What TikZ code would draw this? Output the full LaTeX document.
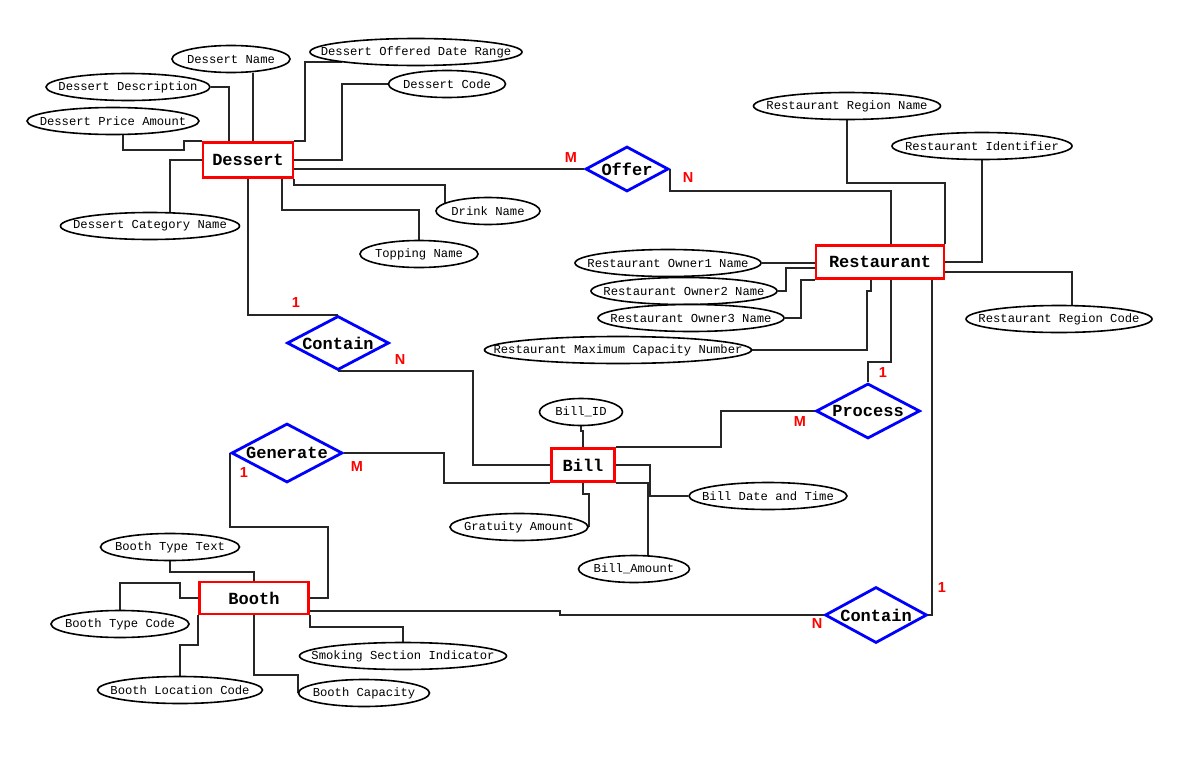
\documentclass[tikz,border=0pt]{standalone}
\usepackage{fontspec}
\setmainfont{Liberation Sans}
\newfontfamily\erfont{Liberation Mono}
\usetikzlibrary{shapes.geometric,backgrounds}
\newcommand\zt[1]{\makebox[0pt]{#1}}
\tikzset{
  attr/.style={ellipse, draw=black, line width=1.6pt, fill=white, inner sep=0pt,
    minimum height=27pt, font=\erfont\fontsize{12.2}{14}\selectfont},
  entity/.style={rectangle, draw=red, line width=2.8pt, fill=white, inner sep=0pt,
    font=\erfont\bfseries\fontsize{17}{20}\selectfont},
  rel/.style={diamond, aspect=1.8, draw=blue, line width=2.8pt, fill=white, inner sep=0pt,
    font=\erfont\bfseries\fontsize{17}{20}\selectfont},
  conn/.style={draw=black!85, line width=1.9pt},
  card/.style={text=red, inner sep=0pt, font=\bfseries\fontsize{14.5}{18}\selectfont},
}
\begin{document}
\begin{tikzpicture}[x=1pt,y=-1pt]
\useasboundingbox (0,0) rectangle (1200,763);

% entities
\node[entity, minimum width=90pt, minimum height=35pt] (dessert) at (248,160) {\zt{Dessert}};
\node[entity, minimum width=128pt, minimum height=33pt] (restaurant) at (880,262) {\zt{Restaurant}};
\node[entity, minimum width=63pt, minimum height=33pt] (bill) at (583,465) {\zt{Bill}};
\node[entity, minimum width=109pt, minimum height=32pt] (booth) at (254,598) {\zt{Booth}};

% relationships
\node[rel, minimum width=83pt, minimum height=45pt] (offer) at (627,169) {\zt{Offer}};
\node[rel, minimum width=102pt, minimum height=54pt] (contain1) at (338,343) {\zt{Contain}};
\node[rel, minimum width=104pt, minimum height=55pt] (process) at (868,411) {\zt{Process}};
\node[rel, minimum width=111pt, minimum height=59pt] (generate) at (287,453) {\zt{Generate}};
\node[rel, minimum width=102pt, minimum height=56pt] (contain2) at (876,615) {\zt{Contain}};

% dessert attributes
\node[attr, minimum width=118pt] (dname) at (231,59) {\zt{Dessert Name}};
\node[attr, minimum width=212pt] (dodr) at (416,52) {\zt{Dessert Offered Date Range}};
\node[attr, minimum width=164pt] (ddesc) at (128,87) {\zt{Dessert Description}};
\node[attr, minimum width=117pt] (dcode) at (447,84) {\zt{Dessert Code}};
\node[attr, minimum width=172pt] (dprice) at (113,121) {\zt{Dessert Price Amount}};
\node[attr, minimum width=179pt] (dcat) at (150,226) {\zt{Dessert Category Name}};
\node[attr, minimum width=104pt] (drink) at (488,211) {\zt{Drink Name}};
\node[attr, minimum width=118pt] (topping) at (419,254) {\zt{Topping Name}};

% restaurant attributes
\node[attr, minimum width=187pt] (rrn) at (847,106) {\zt{Restaurant Region Name}};
\node[attr, minimum width=180pt] (rid) at (982,146) {\zt{Restaurant Identifier}};
\node[attr, minimum width=186pt] (ro1) at (668,263) {\zt{Restaurant Owner1 Name}};
\node[attr, minimum width=186pt] (ro2) at (684,291) {\zt{Restaurant Owner2 Name}};
\node[attr, minimum width=186pt] (ro3) at (691,318) {\zt{Restaurant Owner3 Name}};
\node[attr, minimum width=267pt] (rmc) at (618,350) {\zt{Restaurant Maximum Capacity Number}};
\node[attr, minimum width=186pt] (rrc) at (1059,319) {\zt{Restaurant Region Code}};

% bill attributes
\node[attr, minimum width=83pt] (billid) at (581,412) {\zt{Bill\_ID}};
\node[attr, minimum width=158pt] (billdt) at (768,496) {\zt{Bill Date and Time}};
\node[attr, minimum width=138pt] (gratuity) at (519,527) {\zt{Gratuity Amount}};
\node[attr, minimum width=111pt] (billamt) at (634,569) {\zt{Bill\_Amount}};

% booth attributes
\node[attr, minimum width=139pt] (btt) at (170,547) {\zt{Booth Type Text}};
\node[attr, minimum width=138pt] (btc) at (120,624) {\zt{Booth Type Code}};
\node[attr, minimum width=207pt] (ssi) at (403,656) {\zt{Smoking Section Indicator}};
\node[attr, minimum width=165pt] (blc) at (180,690) {\zt{Booth Location Code}};
\node[attr, minimum width=131pt] (bcap) at (364,693) {\zt{Booth Capacity}};

% cardinality labels
\node[card] (c1) at (571,158) {M};
\node[card] (c2) at (688,178) {N};
\node[card] (c3) at (296,303) {1};
\node[card] (c4) at (400,360) {N};
\node[card] (c5) at (883,373) {1};
\node[card] (c6) at (800,422) {M};
\node[card] (c7) at (244,473) {1};
\node[card] (c8) at (357,467) {M};
\node[card] (c9) at (942,588) {1};
\node[card] (c10) at (817,624) {N};

\begin{pgfonlayer}{background}
\fill[white] (0,0) rectangle (1200,763);
% dessert attribute connectors
\draw[conn] ([xshift=5pt]dessert.north |- dname.south) -- ([xshift=5pt]dessert.north);
\draw[conn] (ddesc.east) -| ([xshift=-19pt]dessert.north);
\draw[conn] ([xshift=10pt]dprice.south) |- ([xshift=-18pt,yshift=-9pt]dessert.north west) |- (dessert.north west);
\draw[conn] (dodr.188) -| ([xshift=11pt]dessert.north east) -- (dessert.north east);
\draw[conn] (dcode.west) -| ([xshift=48pt]dessert.east) -- (dessert.east);
\draw[conn] ([xshift=20pt]dcat.north) |- (dessert.west);
\draw[conn] (drink.169) -- ++(0,-18) -| (dessert.south east);
\draw[conn] (topping.north) -- ++(0,-30) -| ([xshift=34pt]dessert.south);
% offer
\draw[conn] (offer.west) -- (offer.west -| dessert.east);
\draw[conn] (offer.east) -- ++(0,22) -| ([xshift=11pt]restaurant.north);
% restaurant attribute connectors
\draw[conn] (rrn.south) -- ++(0,63) -| (restaurant.north east);
\draw[conn] (rid.south) |- (restaurant.east);
\draw[conn] ([yshift=-10pt]restaurant.east) -| ([xshift=13pt]rrc.north);
\draw[conn] (ro1.east) -- (ro1.east -| restaurant.west);
\draw[conn] (ro2.east) -| ([xshift=-29pt,yshift=-6pt]restaurant.west) -- ([yshift=-6pt]restaurant.west);
\draw[conn] (ro3.east) -| ([xshift=-14pt]restaurant.south west) -- (restaurant.south west);
\draw[conn] (rmc.east) -| ([xshift=-13pt,yshift=-11pt]restaurant.south) -| ([xshift=-9pt]restaurant.south);
% process
\draw[conn] ([xshift=11pt]restaurant.south) |- ([yshift=20pt]process.north) -- (process.north);
\draw[conn] (process.west) -| ([xshift=105pt]bill.north east) -- (bill.north east);
% contain (bottom)
\draw[conn] ([xshift=52pt]restaurant.south) |- (contain2.east);
\draw[conn] ([yshift=-13pt]booth.east) -| ([xshift=-264pt]contain2.west) -- (contain2.west);
% contain (top)
\draw[conn] (dessert.south) |- (contain1.north);
\draw[conn] (contain1.south) -| ([xshift=-77pt]bill.west) -- (bill.west);
% generate
\draw[conn] (generate.east) -| ([xshift=-106pt]bill.south west) -- (bill.south west);
\draw[conn] (generate.west) -- ++(0,74) -| ([xshift=18pt]booth.east) -- (booth.east);
% bill attribute connectors
\draw[conn] (billid.south) -- ++(0,5) -| (bill.north);
\draw[conn] (bill.south) -- ++(0,11) -| (gratuity.east);
\draw[conn] (bill.east) -| ([xshift=-38pt]billdt.west) -- (billdt.west);
\draw[conn] (bill.south east) -| ([xshift=14pt]billamt.north);
% booth attribute connectors
\draw[conn] (btt.south) -- ++(0,11) -| (booth.north);
\draw[conn] (btc.north) |- ([xshift=-18pt,yshift=15pt]booth.west) |- (booth.west);
\draw[conn] (blc.north) |- ([yshift=-30pt]booth.south west) -- (booth.south west);
\draw[conn] (booth.south) -- ++(0,60) -| (bcap.west);
\draw[conn] (booth.south east) -- ++(0,12) -| (ssi.north);
\end{pgfonlayer}
\end{tikzpicture}
\end{document}
